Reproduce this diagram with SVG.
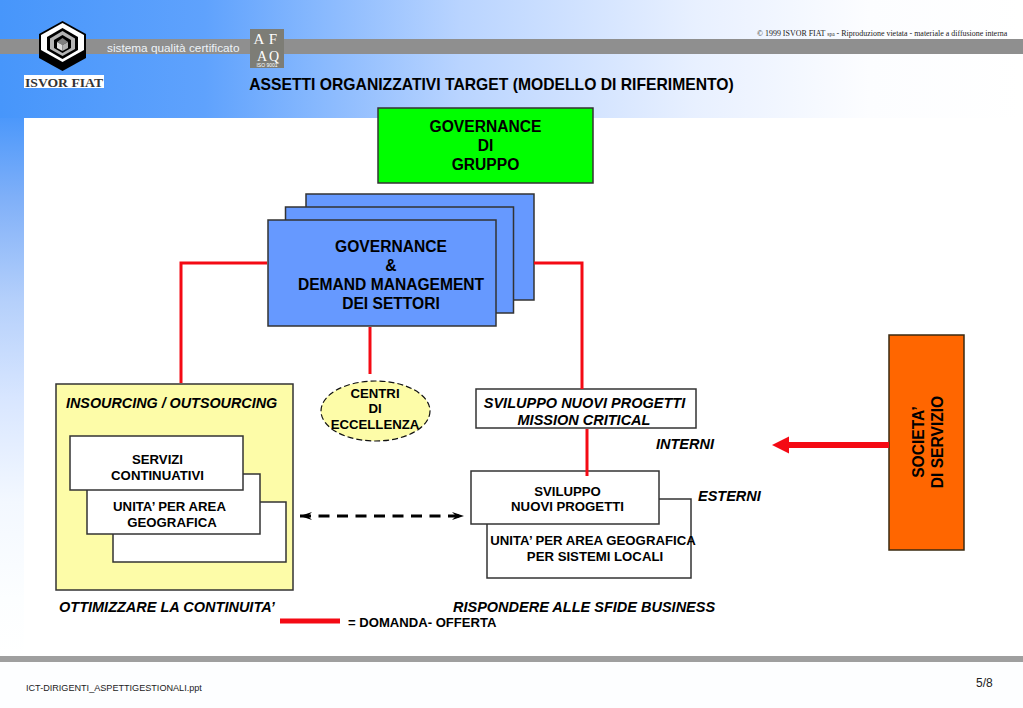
<svg xmlns="http://www.w3.org/2000/svg" width="1023" height="708" viewBox="0 0 1023 708">
<defs>
<linearGradient id="bgH" x1="0" y1="0" x2="1" y2="0"><stop offset="0" stop-color="#4796fb"/><stop offset="0.2" stop-color="#5fa2fd"/><stop offset="0.45" stop-color="#b9d4ff"/><stop offset="0.68" stop-color="#e8f0ff"/><stop offset="0.85" stop-color="#fcfdff"/><stop offset="1" stop-color="#ffffff"/></linearGradient>
<linearGradient id="bgV" x1="0" y1="0" x2="0" y2="1"><stop offset="0" stop-color="#4c98fb"/><stop offset="0.15" stop-color="#80b0f8"/><stop offset="0.34" stop-color="#b5d0fb"/><stop offset="0.52" stop-color="#d8e6ff"/><stop offset="0.71" stop-color="#f3f8ff"/><stop offset="0.89" stop-color="#fcfeff"/><stop offset="1" stop-color="#ffffff"/></linearGradient>
<marker id="open" viewBox="0 0 14 10" refX="13" refY="5" markerWidth="14" markerHeight="10" markerUnits="userSpaceOnUse" orient="auto-start-reverse"><path d="M1 1 L13 5 L1 9 L5 5 Z" fill="#000"/></marker>
</defs>
<style>
text{font-family:"Liberation Sans",Arial,sans-serif;fill:#000}
.b{font-weight:700}
.i{font-weight:700;font-style:italic;font-size:14.500px}
.c{text-anchor:middle}
.box{stroke:#333;stroke-width:1.5}
.red{fill:none;stroke:#f40a14;stroke-width:3}
.t14{font-size:15.600px}
.t13{font-size:13.200px}
.serif{font-family:"Liberation Serif",serif}
.af{font-family:"Liberation Serif",serif;fill:#fff;text-anchor:middle}
</style>
<rect width="1023" height="708" fill="#fdfeff"/>
<rect width="1023" height="118" fill="url(#bgH)"/>
<rect x="0" y="118" width="24" height="540" fill="url(#bgV)"/>
<rect x="24" y="118" width="999" height="540" fill="#fff"/>
<rect x="0" y="39" width="1023" height="15" fill="#8f8f8f"/>
<rect x="0" y="656" width="1023" height="6" fill="#9f9f9f"/>

<g id="logo">
<rect x="24" y="75" width="80" height="13" fill="#fff"/>
<polygon points="62.500,21 86,34 86,58 62.500,71 39,58 39,34" fill="#000"/>
<polygon points="62.500,23 84,35 84,50 62.500,62 41,50 41,35" fill="#fff"/>
<polygon points="62.500,28 78,37 78,50 62.500,59 47,50 47,37" fill="#000"/>
<polygon points="62.500,31 75,38.500 75,49 62.500,56 50,49 50,38.500" fill="#b4b4b4"/>
<polygon points="62.500,35 71,40 71,48 62.500,53 54,48 54,40" fill="#000"/>
<polygon points="62.500,38 68,42 62.500,45 57,42" fill="#808080"/>
<polygon points="57,42 62.500,45 62.500,51 57,48" fill="#dddddd"/>
<polygon points="68,42 62.500,45 62.500,51 68,48" fill="#b0b0b0"/>
<text x="64" y="86.500" class="c serif" style="font-weight:700;font-size:13.500px;fill:#333" textLength="78" lengthAdjust="spacingAndGlyphs">ISVOR FIAT</text>
</g>
<text x="107" y="52" style="font-size:11.800px;fill:#eef3f8">sistema qualità certificato</text>
<g id="afaq">
<rect x="250" y="29" width="34" height="39" fill="#7d7d76"/>
<text x="259" y="44" class="af" style="font-size:15px">A</text>
<text x="273" y="44" class="af" style="font-size:15px">F</text>
<text x="262" y="60.500" class="af" style="font-size:14px">A</text>
<text x="274" y="60.500" class="af" style="font-size:14px">Q</text>
<text x="267" y="67" class="c" style="font-size:5px;fill:#fff">ISO 9001</text>
</g>
<text x="757" y="36" class="serif" style="font-size:7.950px;fill:#222">© 1999 ISVOR FIAT <tspan font-size="5.500">spa</tspan> - Riproduzione vietata - materiale a diffusione interna</text>
<text x="491.500" y="90" class="b c" style="font-size:15.700px">ASSETTI ORGANIZZATIVI TARGET (MODELLO DI RIFERIMENTO)</text>

<g id="governance-gruppo">
<rect x="378" y="108" width="215" height="75" fill="#00ff00" class="box"/>
<text class="b c t14" x="485.500" y="131.500">GOVERNANCE</text>
<text class="b c t14" x="485.500" y="150.500">DI</text>
<text class="b c t14" x="485.500" y="169.500">GRUPPO</text>
</g>
<g id="governance-settori">
<rect x="306" y="194" width="228" height="106" fill="#6699ff" class="box"/>
<rect x="285.500" y="207" width="228" height="106" fill="#6699ff" class="box"/>
<rect x="268" y="220" width="228" height="106" fill="#6699ff" class="box"/>
<text class="b c t14" x="391" y="252">GOVERNANCE</text>
<text class="b c t14" x="391" y="271">&amp;</text>
<text class="b c t14" x="391" y="290">DEMAND MANAGEMENT</text>
<text class="b c t14" x="391" y="309">DEI SETTORI</text>
</g>
<g id="centri">
<ellipse cx="375.500" cy="411" rx="54.500" ry="30" fill="#fdfca8" stroke="#111" stroke-width="1.200" stroke-dasharray="6 3"/>
<text class="b c t13" x="375" y="398">CENTRI</text>
<text class="b c t13" x="375" y="413">DI</text>
<text class="b c t13" x="375" y="429">ECCELLENZA</text>
</g>
<g id="insourcing">
<rect x="56" y="384" width="237" height="206" fill="#fdfca8" class="box"/>
<text class="i" x="66" y="408" style="font-size:14.350px">INSOURCING / OUTSOURCING</text>
<rect x="113" y="502" width="173" height="60" fill="#fff" class="box"/>
<rect x="87" y="474" width="173" height="60" fill="#fff" class="box"/>
<rect x="70" y="436" width="173" height="54" fill="#fff" class="box"/>
<text class="b c t13" x="157.500" y="464">SERVIZI</text>
<text class="b c t13" x="157.500" y="480">CONTINUATIVI</text>
<text class="b c t13" x="169.500" y="511">UNITA’ PER AREA</text>
<text class="b c t13" x="172" y="527">GEOGRAFICA</text>
</g>
<g id="mission">
<rect x="476" y="389" width="220" height="39" fill="#fff" class="box"/>
<text class="i c" x="584.500" y="408">SVILUPPO NUOVI PROGETTI</text>
<text class="i c" x="584" y="425">MISSION CRITICAL</text>
</g>
<g id="sviluppo">
<rect x="487" y="499" width="204" height="79" fill="#fff" class="box"/>
<rect x="471" y="471" width="188" height="53" fill="#fff" class="box"/>
<text class="b c t13" x="567.500" y="496">SVILUPPO</text>
<text class="b c t13" x="567.500" y="511">NUOVI PROGETTI</text>
<text class="b c t13" x="593" y="545">UNITA’ PER AREA GEOGRAFICA</text>
<text class="b c t13" x="595" y="561">PER SISTEMI LOCALI</text>
</g>
<text class="i" x="656" y="449">INTERNI</text>
<text class="i" x="698" y="501">ESTERNI</text>
<g id="societa">
<rect x="889" y="335" width="75" height="215" fill="#ff6600" stroke="#3a2a10" stroke-width="1.500"/>
<text class="b c t14" transform="translate(924,442) rotate(-90)">SOCIETA’</text>
<text class="b c t14" transform="translate(943,442) rotate(-90)">DI SERVIZIO</text>
</g>

<g id="connectors">
<path class="red" d="M267 263 H181 V383"/>
<path class="red" d="M534 263 H582 V389"/>
<path class="red" d="M370 327 V374"/>
<path class="red" d="M587 429 V476"/>
<line x1="300" y1="516" x2="464" y2="516" stroke="#000" stroke-width="3" stroke-dasharray="11 7.500" marker-start="url(#open)" marker-end="url(#open)"/>
<line x1="889" y1="445" x2="785" y2="445" stroke="#f40a14" stroke-width="6"/>
<polygon points="772,445 789,436.500 789,453.500" fill="#f40a14"/>
<line x1="280" y1="621" x2="340" y2="621" stroke="#f40a14" stroke-width="5"/>
</g>

<text class="i" x="59" y="612">OTTIMIZZARE LA CONTINUITA’</text>
<text class="i" x="453" y="612">RISPONDERE ALLE SFIDE BUSINESS</text>
<text class="b" x="348" y="627" style="font-size:13.100px">= DOMANDA- OFFERTA</text>
<text x="26" y="691" style="font-size:9.100px;fill:#222">ICT-DIRIGENTI_ASPETTIGESTIONALI.ppt</text>
<text x="976" y="687" style="font-size:12px;fill:#222">5/8</text>
</svg>
